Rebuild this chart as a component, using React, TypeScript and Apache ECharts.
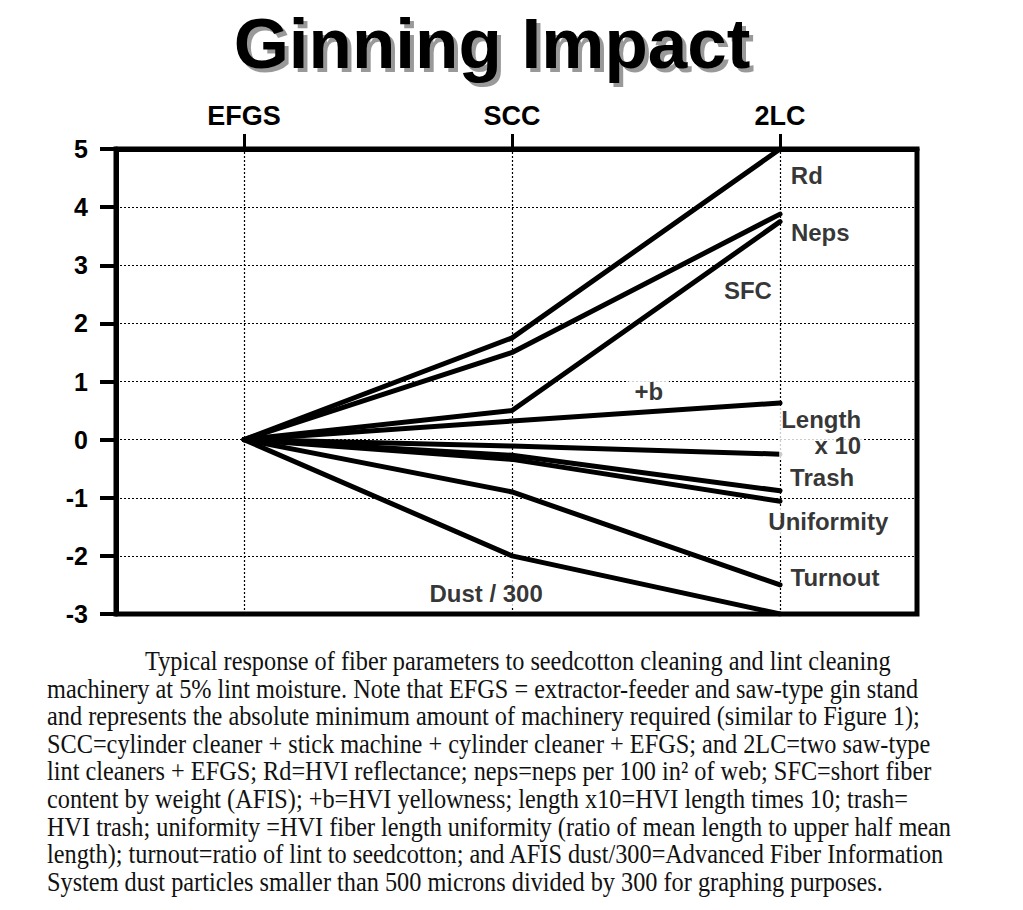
import React, { useEffect, useRef } from "react";
import * as echarts from "echarts";

const categories = ["EFGS", "SCC", "2LC"];
const categoryPositions = [0, 1, 2];
const yTicks = [-3, -2, -1, 0, 1, 2, 3, 4, 5];

const seriesNames = ["Rd", "Neps", "SFC", "+b", "Length x 10", "Trash", "Uniformity", "Turnout", "Dust / 300"];
const rd = [0, 1.75, 5.0];
const neps = [0, 1.5, 3.88];
const sfc = [0, 0.5, 3.75];
const plusB = [0, 0.32, 0.63];
const length10 = [0, -0.11, -0.25];
const trash = [0, -0.27, -0.88];
const uniformity = [0, -0.34, -1.06];
const turnout = [0, -0.9, -2.5];
const dust300 = [0, -2.0, -3.0];
const seriesValues = [rd, neps, sfc, plusB, length10, trash, uniformity, turnout, dust300];

// label anchor positions in data coordinates
const labelTexts = ["Rd", "Neps", "SFC", "+b", "Length\nx 10", "Trash", "Uniformity", "Turnout", "Dust / 300"];
const labelX = [2.1, 2.15, 1.88, 1.51, 2.31, 2.157, 2.18, 2.205, 0.903];
const labelY = [4.55, 3.57, 2.57, 0.82, 0.13, -0.65, -1.4, -2.38, -2.64];

const titleText = "Ginning Impact";
const captionLines = [
  "Typical response of fiber parameters to seedcotton cleaning and lint cleaning",
  "machinery at 5% lint moisture. Note that EFGS = extractor-feeder and saw-type gin stand",
  "and represents the absolute minimum amount of machinery required (similar to Figure 1);",
  "SCC=cylinder cleaner + stick machine + cylinder cleaner + EFGS; and 2LC=two saw-type",
  "lint cleaners + EFGS; Rd=HVI reflectance; neps=neps per 100 in\u00B2 of web; SFC=short fiber",
  "content by weight (AFIS); +b=HVI yellowness; length x10=HVI length times 10; trash=",
  "HVI trash; uniformity =HVI fiber length uniformity (ratio of mean length to upper half mean",
  "length); turnout=ratio of lint to seedcotton; and AFIS dust/300=Advanced Fiber Information",
  "System dust particles smaller than 500 microns divided by 300 for graphing purposes.",
];

const SANS = "'Liberation Sans', Arial, sans-serif";
const SERIF = "'Liberation Serif', 'Times New Roman', serif";

export default function App() {
  const ref = useRef<HTMLDivElement>(null);
  useEffect(() => {
    document.body.style.margin = "0";
    const chart = echarts.init(ref.current!, null, { renderer: "svg" });
    const lineSeries = seriesValues.map((vals, i) => ({
      type: "line",
      name: seriesNames[i],
      data: vals.map((v, j) => [categoryPositions[j], v]),
      symbol: "none",
      lineStyle: { color: "#000", width: 5, join: "round", cap: "round" },
      z: 5,
      silent: true,
      ...(i === 0
        ? {
            markLine: {
              silent: true,
              symbol: "none",
              label: { show: false },
              lineStyle: { color: "#000", width: 1.2, type: [2, 2] },
              data: categoryPositions.map((p) => ({ xAxis: p })),
              z: 1,
            },
          }
        : {}),
    }));
    const labelSeries = {
      type: "scatter",
      symbolSize: 0,
      z: 10,
      silent: true,
      data: labelTexts.map((t, i) => ({
        value: [labelX[i], labelY[i]],
        name: t,
        label:
          i === 4
            ? { position: "left", distance: 0, align: "right", padding: [0, 2] }
            : undefined,
      })),
      label: {
        show: true,
        position: "inside",
        formatter: (p: any) => p.name,
        fontFamily: SANS,
        fontWeight: "bold",
        fontSize: 24,
        color: "#000",
        backgroundColor: "#fff",
        padding: [2, 6],
        lineHeight: 26,
      },
    };
    chart.setOption({
      animation: false,
      backgroundColor: "#fff",
      grid: {
        left: 116,
        right: 106,
        top: 149,
        bottom: 296,
        show: true,
        borderColor: "#000",
        borderWidth: 5,
        backgroundColor: "transparent",
      },
      xAxis: {
        type: "value",
        position: "top",
        min: -0.478,
        max: 2.511,
        axisLine: { show: true, onZero: false, lineStyle: { color: "#000", width: 5 } },
        axisTick: { show: true, customValues: categoryPositions, length: 15, lineStyle: { color: "#000", width: 3 } },
        axisLabel: {
          show: true,
          customValues: categoryPositions,
          formatter: (v: number) => categories[Math.round(v)] ?? "",
          fontFamily: SANS,
          fontWeight: "bold",
          fontSize: 27,
          color: "#000",
          margin: 20,
        },
        splitLine: { show: false },
      },
      yAxis: {
        type: "value",
        min: yTicks[0],
        max: yTicks[yTicks.length - 1],
        interval: 1,
        axisLine: { show: true, onZero: false, lineStyle: { color: "#000", width: 5 } },
        axisTick: { show: true, length: 16, lineStyle: { color: "#000", width: 4 } },
        axisLabel: {
          fontFamily: SANS,
          fontWeight: "bold",
          fontSize: 25,
          color: "#000",
          margin: 28,
        },
        splitLine: { show: true, lineStyle: { color: "#000", width: 1.2, type: [2, 2] } },
      },
      series: [...lineSeries, labelSeries],
      graphic: [
        {
          type: "text",
          x: 492,
          y: 43,
          silent: true,
          style: {
            text: titleText,
            fontFamily: SANS,
            fontWeight: "bold",
            fontSize: 71,
            align: "center",
            verticalAlign: "middle",
            fill: "#000",
            textShadowColor: "rgba(0,0,0,0.4)",
            textShadowBlur: 1,
            textShadowOffsetX: 4,
            textShadowOffsetY: 4,
          },
        },
        ...captionLines.map((line, i) => ({
          type: "text",
          x: i === 0 ? 145 : 47,
          y: 661 + i * 27.6,
          scaleX: 0.9,
          silent: true,
          style: {
            text: line,
            fontFamily: SERIF,
            fontSize: 27,
            fill: "#111",
            align: "left",
            verticalAlign: "middle",
          },
        })),
      ],
    });
    return () => chart.dispose();
  }, []);
  return <div ref={ref} style={{ width: 1023, height: 910 }} />;
}
